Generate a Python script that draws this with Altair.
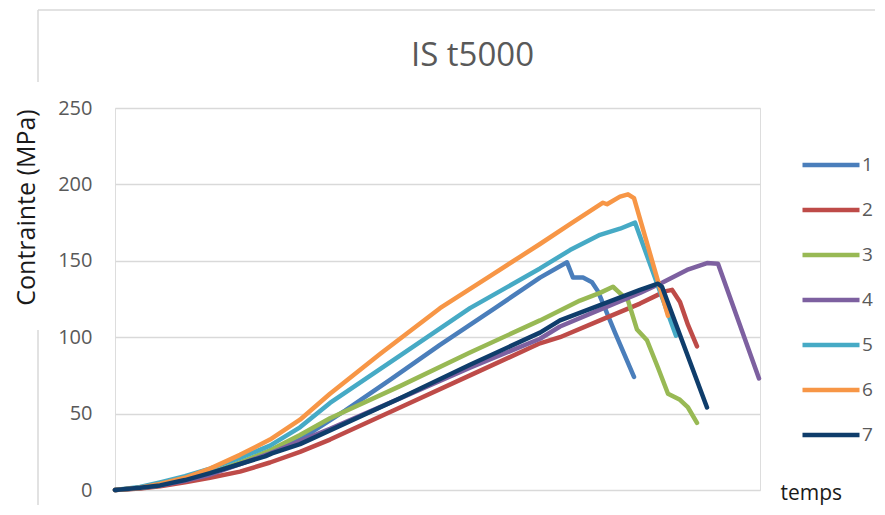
import altair as alt
import pandas as pd

series_names = ["1", "2", "3", "4", "5", "6", "7"]
series_colors = ["#4A7EBB", "#BE4B48", "#98B954", "#7D60A0", "#46AAC5", "#F79646", "#0F3D6B"]

s1_t = [0, 25, 45, 65, 85, 105, 125, 155, 185, 230, 275, 325, 380, 425, 452, 458, 468, 477, 483, 500, 519]
s1_v = [0, 1.2, 3, 5.5, 9, 13, 18, 25, 33, 52, 72, 95, 119, 139, 149, 139, 139, 136, 130, 103, 74]

s2_t = [0, 25, 45, 70, 95, 125, 155, 185, 215, 285, 355, 425, 445, 485, 525, 550, 557, 565, 573, 582]
s2_v = [0, 1, 2.5, 5, 8, 12, 18, 25, 33, 54, 75, 96, 100, 111, 122, 130, 131, 123, 108, 94]

s3_t = [0, 25, 45, 70, 95, 125, 155, 185, 215, 285, 355, 425, 465, 485, 498, 503, 513, 522, 532, 543, 553, 565, 573, 582]
s3_v = [0, 1.3, 3, 6.5, 11, 18, 26, 36, 47, 68, 90, 111, 124, 129, 133, 130, 124, 105, 98, 80, 63, 59, 54, 44]

s4_t = [0, 25, 45, 70, 95, 125, 155, 185, 215, 285, 355, 425, 445, 485, 525, 548, 572, 592, 603, 644]
s4_v = [0, 1.3, 3, 6, 10, 17, 24, 32, 40, 60, 80, 99, 107, 118, 129, 136, 144, 148.5, 148, 73]

s5_t = [0, 25, 45, 70, 95, 125, 155, 185, 215, 285, 355, 425, 455, 485, 505, 520, 561]
s5_v = [0, 2, 5, 9, 14, 21, 29, 41, 57, 88, 119, 145, 157, 167, 171, 175, 101]

s6_t = [0, 25, 45, 70, 95, 125, 155, 185, 215, 265, 325, 375, 425, 455, 488, 492, 505, 513, 519, 553]
s6_v = [0, 1.5, 4, 8, 14, 23, 33, 46, 63, 89, 119, 140, 161, 174, 188, 187, 192, 193.5, 191, 114]

s7_t = [0, 25, 45, 70, 95, 125, 150, 157, 185, 215, 285, 355, 425, 445, 485, 525, 543, 547, 592]
s7_v = [0, 1.5, 3, 6.5, 11, 17, 22, 24, 30, 39, 60, 82, 103, 111, 121, 131, 135, 133, 54]

y_ticks = [0, 50, 100, 150, 200, 250]

all_t = [s1_t, s2_t, s3_t, s4_t, s5_t, s6_t, s7_t]
all_v = [s1_v, s2_v, s3_v, s4_v, s5_v, s6_v, s7_v]

rows = []
for name, ts, vs in zip(series_names, all_t, all_v):
    for i, (t, v) in enumerate(zip(ts, vs)):
        rows.append({"serie": name, "temps": t, "contrainte": v, "i": i})
df = pd.DataFrame(rows)

FONT = "Open Sans"
GRAY = "#595959"
FRAME = "#d9d9d9"

lines = alt.Chart(df).mark_line(
    strokeWidth=4.5, strokeCap="round", strokeJoin="round"
).encode(
    x=alt.X("temps:Q",
            scale=alt.Scale(domain=[0, 645], nice=False, zero=False),
            axis=alt.Axis(labels=False, ticks=False, domain=False, grid=False,
                          title="temps", titleX=665, titleY=3, titleAlign="left",
                          titleBaseline="middle", titleFontSize=21,
                          titleFont=FONT, titleColor="#1a1a1a",
                          titleFontWeight="normal")),
    y=alt.Y("contrainte:Q",
            scale=alt.Scale(domain=[0, 250], nice=False),
            axis=alt.Axis(values=y_ticks, domain=False, ticks=False, tickSize=0,
                          grid=True, gridColor=FRAME, gridWidth=1.5,
                          labelFontSize=20, labelFont=FONT, labelColor=GRAY,
                          labelPadding=23,
                          title="Contrainte (MPa)", titleFontSize=25,
                          titleFont=FONT, titleColor="#1a1a1a",
                          titleFontWeight="normal", titleX=-89, titleY=99,
                          titleAngle=270, titleAlign="center",
                          titleBaseline="middle")),
    color=alt.Color("serie:N",
                    scale=alt.Scale(domain=series_names, range=series_colors),
                    legend=alt.Legend(orient="none", legendX=685, legendY=47,
                                      title=None, symbolType="stroke",
                                      symbolSize=3249, symbolStrokeWidth=4.5,
                                      clipHeight=20, rowPadding=25,
                                      labelFontSize=19, labelFont=FONT,
                                      labelColor=GRAY, labelOffset=0,
                                      padding=0)),
    order="i:Q",
)

frame_top = alt.Chart().mark_rule(color=FRAME, strokeWidth=1.5).encode(
    x=alt.value(-77), x2=alt.value(770), y=alt.value(-98))
frame_left1 = alt.Chart().mark_rule(color=FRAME, strokeWidth=1.5).encode(
    x=alt.value(-77), y=alt.value(-98), y2=alt.value(-26))
frame_left2 = alt.Chart().mark_rule(color=FRAME, strokeWidth=1.5).encode(
    x=alt.value(-77), y=alt.value(222), y2=alt.value(407))

chart = alt.layer(frame_top, frame_left1, frame_left2, lines).properties(
    width=645, height=382,
    autosize=alt.AutoSizeParams(type="none"),
    padding={"left": 107, "top": 100, "right": 115, "bottom": 15},
    title=alt.TitleParams("IS t5000", fontSize=33, font=FONT, color=GRAY,
                          fontWeight="normal", anchor="middle", dx=35,
                          baseline="alphabetic", offset=0, dy=90),
).configure_view(stroke=None).configure(background="white")

chart.save("out.html", embed_options={"renderer": "svg", "actions": False})
